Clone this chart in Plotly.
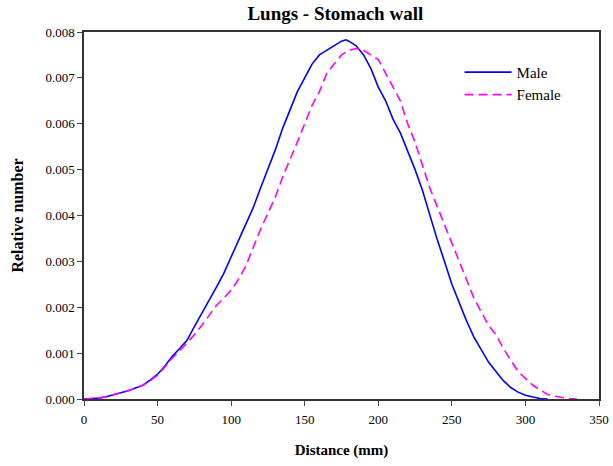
import plotly.graph_objects as go

distance_male = [0, 5, 10, 15, 20, 25, 30, 35, 40, 45, 50, 55, 60, 65, 70, 75, 80, 85, 90, 95,
                 100, 105, 110, 115, 120, 125, 130, 135, 140, 145, 150, 155, 160, 165, 170, 175,
                 178, 180, 185, 190, 195, 200, 205, 210, 215, 220, 225, 230, 235, 240, 245, 250,
                 255, 260, 265, 270, 275, 280, 285, 290, 295, 300, 305, 310, 315]
male = [0, 0.000005, 0.00002, 0.00005, 0.00009, 0.00013, 0.00018, 0.00024, 0.0003, 0.00041,
        0.00054, 0.00072, 0.00093, 0.0011, 0.00128, 0.00158, 0.00186, 0.00215, 0.00244, 0.00274,
        0.0031, 0.00346, 0.00383, 0.00417, 0.0046, 0.005, 0.00543, 0.0059, 0.0063, 0.0067,
        0.007, 0.0073, 0.0075, 0.0076, 0.0077, 0.0078, 0.00783, 0.0078, 0.0077, 0.0075,
        0.0072, 0.0068, 0.0065, 0.0061, 0.0058, 0.0054, 0.005, 0.00455, 0.004, 0.00348,
        0.003, 0.0025, 0.0021, 0.0017, 0.00135, 0.00107, 0.0008, 0.0006, 0.0004, 0.00025,
        0.00015, 0.00008, 0.00004, 0.00001, 0]

distance_female = [0, 5, 10, 15, 20, 25, 30, 35, 40, 45, 50, 55, 60, 65, 70, 75, 80, 85, 90, 95,
                   100, 105, 110, 115, 120, 125, 130, 135, 140, 145, 150, 155, 160, 165, 170, 175,
                   180, 185, 190, 195, 200, 205, 210, 215, 220, 225, 230, 235, 240, 245, 250, 255,
                   260, 265, 270, 275, 280, 285, 290, 295, 300, 305, 310, 315, 320, 325, 330, 335]
female = [0, 0.000005, 0.00002, 0.00005, 0.00009, 0.00013, 0.00018, 0.00024, 0.0003, 0.0004,
          0.00052, 0.0007, 0.00089, 0.00105, 0.00122, 0.0014, 0.0016, 0.00183, 0.00204, 0.0022,
          0.00237, 0.00261, 0.0029, 0.0033, 0.0037, 0.00405, 0.0044, 0.00484, 0.0052, 0.0056,
          0.006, 0.0064, 0.0067, 0.0071, 0.0073, 0.0075, 0.0076, 0.00764, 0.0076, 0.0075,
          0.0074, 0.0071, 0.0068, 0.0065, 0.006, 0.0056, 0.0051, 0.0046, 0.0042, 0.0038,
          0.0034, 0.003, 0.0026, 0.0022, 0.0019, 0.0016, 0.0014, 0.0011, 0.00085, 0.0006,
          0.00045, 0.0003, 0.0002, 0.0001, 0.00006, 0.00003, 0.00001, 0]

x_ticks = [0, 50, 100, 150, 200, 250, 300, 350]
y_ticks = [0, 0.001, 0.002, 0.003, 0.004, 0.005, 0.006, 0.007, 0.008]

serif = "Liberation Serif, Times New Roman, serif"

fig = go.Figure()
fig.add_trace(go.Scatter(x=distance_male, y=male, mode="lines", name="Male",
                         line=dict(color="#0000FF", width=1.6)))
fig.add_trace(go.Scatter(x=distance_female, y=female, mode="lines", name="Female",
                         line=dict(color="#FF00FF", width=1.6, dash="9px,5px")))

fig.update_layout(
    width=613, height=466,
    margin=dict(l=84, r=14, t=32, b=67),
    paper_bgcolor="white", plot_bgcolor="white",
    font=dict(family=serif, size=13, color="black"),
    title=dict(text="<b>Lungs - Stomach wall</b>", x=0.547, xanchor="center", xref="container",
               y=0.972, yanchor="middle", font=dict(size=19)),
    legend=dict(x=0.937, y=0.935, xanchor="right", yanchor="top",
                bgcolor="rgba(0,0,0,0)", font=dict(size=15), tracegroupgap=0,
                itemwidth=47),
    showlegend=True,
)
fig.update_xaxes(range=[0, 350], tickvals=x_ticks, ticks="outside", ticklen=5,
                 ticklabelstandoff=3, automargin=False,
                 showline=True, linecolor="#333", linewidth=1.5, mirror=True,
                 showgrid=False, zeroline=False,
                 title=dict(text="<b>Distance (mm)</b>", font=dict(size=15), standoff=18))
fig.update_yaxes(range=[0, 0.008], tickvals=y_ticks, tickformat=".3f", ticks="outside", ticklen=5,
                 automargin=False,
                 showline=True, linecolor="#333", linewidth=1.5, mirror=True,
                 showgrid=False, zeroline=False,
                 title=dict(text="<b>Relative number</b>", font=dict(size=16), standoff=18))

fig.write_html("out.html")
